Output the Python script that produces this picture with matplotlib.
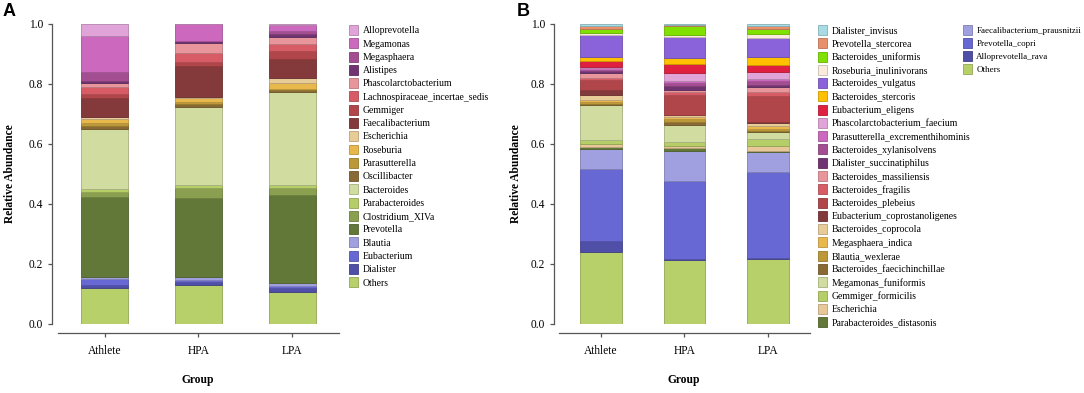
import numpy as np
import matplotlib.pyplot as plt
from matplotlib.patches import Patch
from matplotlib.colors import to_rgb

plt.rcParams['font.family'] = 'serif'
plt.rcParams['font.serif'] = ['Liberation Serif', 'DejaVu Serif']

groups = ["Athlete", "HPA", "LPA"]

# Panel A (genus level), listed from the bottom of the stack upwards
genus = ["Others", "Dialister", "Eubacterium", "Blautia", "Prevotella",
         "Clostridium_XIVa", "Parabacteroides", "Bacteroides", "Oscillibacter",
         "Parasutterella", "Roseburia", "Escherichia", "Faecalibacterium",
         "Gemmiger", "Lachnospiraceae_incertae_sedis", "Phascolarctobacterium",
         "Alistipes", "Megasphaera", "Megamonas", "Alloprevotella"]
genus_colors = ["#B8D06A", "#4F4FA8", "#6868D4", "#A0A0E0", "#627838",
                "#8AA050", "#B6CE68", "#D0DCA0", "#8A6A34", "#BC9838",
                "#E8B84C", "#E8CC98", "#843A3A", "#B0464A", "#D85C66",
                "#E8969C", "#703472", "#A44E92", "#CC68BE", "#E0A4D8"]
genus_athlete = [0.120, 0.010, 0.019, 0.009, 0.264, 0.017, 0.010, 0.200, 0.012, 0.008,
                 0.013, 0.007, 0.063, 0.014, 0.023, 0.014, 0.007, 0.029, 0.121, 0.040]
genus_hpa = [0.130, 0.010, 0.007, 0.011, 0.263, 0.031, 0.011, 0.261, 0.009, 0.007,
             0.012, 0.005, 0.102, 0.013, 0.032, 0.031, 0.007, 0.002, 0.056, 0.000]
genus_lpa = [0.108, 0.011, 0.008, 0.011, 0.292, 0.025, 0.008, 0.311, 0.005, 0.004,
             0.020, 0.017, 0.064, 0.025, 0.025, 0.023, 0.010, 0.009, 0.021, 0.003]

# Panel B (species level), bottom of the stack upwards
species = ["Others", "Alloprevotella_rava", "Prevotella_copri", "Faecalibacterium_prausnitzii",
           "Parabacteroides_distasonis", "Escherichia", "Gemmiger_formicilis",
           "Megamonas_funiformis", "Bacteroides_faecichinchillae", "Blautia_wexlerae",
           "Megasphaera_indica", "Bacteroides_coprocola", "Eubacterium_coprostanoligenes",
           "Bacteroides_plebeius", "Bacteroides_fragilis", "Bacteroides_massiliensis",
           "Dialister_succinatiphilus", "Bacteroides_xylanisolvens",
           "Parasutterella_excrementhihominis", "Phascolarctobacterium_faecium",
           "Eubacterium_eligens", "Bacteroides_stercoris", "Bacteroides_vulgatus",
           "Roseburia_inulinivorans", "Bacteroides_uniformis", "Prevotella_stercorea",
           "Dialister_invisus"]
species_colors = ["#B8D06A", "#4F4FA8", "#6868D4", "#A0A0E0", "#627838", "#E8C898",
                  "#B6CE68", "#D0DCA0", "#8A6A34", "#BC9838", "#E8B84C", "#E8CC98",
                  "#843A3A", "#B0464A", "#D85C66", "#E8969C", "#703472", "#A44E92",
                  "#CC68BE", "#E0A4D8", "#E02040", "#FFC000", "#8A62DA", "#FAEBDC",
                  "#80E000", "#E8906A", "#A8DCE4"]
species_athlete = [0.239, 0.039, 0.240, 0.065, 0.008, 0.009, 0.013, 0.116, 0.006, 0.005,
                   0.008, 0.014, 0.019, 0.031, 0.008, 0.017, 0.005, 0.005, 0.006, 0.004,
                   0.021, 0.011, 0.073, 0.008, 0.014, 0.009, 0.007]
species_hpa = [0.214, 0.002, 0.262, 0.100, 0.009, 0.005, 0.015, 0.056, 0.012, 0.008,
               0.007, 0.006, 0.002, 0.064, 0.010, 0.008, 0.012, 0.010, 0.007, 0.028,
               0.030, 0.020, 0.070, 0.007, 0.030, 0.002, 0.004]
species_lpa = [0.217, 0.004, 0.285, 0.066, 0.006, 0.016, 0.023, 0.023, 0.005, 0.005,
               0.010, 0.010, 0.003, 0.087, 0.013, 0.016, 0.007, 0.015, 0.007, 0.022,
               0.022, 0.027, 0.064, 0.014, 0.017, 0.009, 0.007]

W, H = 1084, 393
fig = plt.figure(figsize=(W / 100, H / 100), dpi=100)
axis_col = '#555555'
lab_size = 8.3


def darker(c, f=0.8):
    r, g, b = to_rgb(c)
    return (r * f, g * f, b * f)


def draw_panel(ax, names, colors, table):
    x = np.arange(1, len(groups) + 1)
    data = np.array(table)
    bottom = np.zeros(len(groups))
    for i, col in enumerate(colors):
        ax.bar(x, data[:, i], 0.5, bottom=bottom, color=col,
               edgecolor=darker(col), linewidth=0.6)
        bottom += data[:, i]
    ax.set_xlim(0.44, 3.55)
    ax.set_ylim(0, 1)
    ax.set_xticks(x, groups)
    ax.set_yticks(np.arange(0, 1.01, 0.2))
    ax.set_yticklabels([f"{v:.1f}" for v in np.arange(0, 1.01, 0.2)])
    for s in ['top', 'right']:
        ax.spines[s].set_visible(False)
    ax.spines['left'].set_bounds(0, 1)
    ax.spines['bottom'].set_position(('outward', 6.5))
    ax.spines['bottom'].set_bounds(0.5, 3.5)
    for s in ['left', 'bottom']:
        ax.spines[s].set_color(axis_col)
        ax.spines[s].set_linewidth(0.9)
    ax.tick_params(axis='both', colors=axis_col, labelcolor='black',
                   labelsize=lab_size, length=2.8, width=0.9)
    ax.tick_params(axis='x', pad=6)
    ax.set_ylabel("Relative Abundance", fontsize=lab_size, fontweight='bold')
    ax.yaxis.label.set_va('center')
    ax.yaxis.set_label_coords(-0.145, 0.5)
    ax.set_xlabel("Group", fontsize=lab_size, fontweight='bold')
    ax.xaxis.set_label_coords(0.5, -0.187)
    ax.xaxis.label.set_va('center')
    handles = [Patch(facecolor=c, edgecolor=darker(c), linewidth=0.6) for c in colors]
    return handles[::-1], names[::-1]


def add_legend(fig, handles, labels, x0, y0, size=7):
    leg = fig.legend(handles, labels, loc='upper left',
                     bbox_to_anchor=(x0 / W, 1 - y0 / H), frameon=False,
                     fontsize=size, handlelength=0.95 * 7 / size,
                     handleheight=1.2 * 7 / size, handletextpad=0.45,
                     labelspacing=0.31 * 7 / size, borderpad=0, borderaxespad=0)
    return leg


ax_a = fig.add_axes([52 / W, (H - 324) / H, 292 / W, 300 / H])
h, l = draw_panel(ax_a, genus, genus_colors, [genus_athlete, genus_hpa, genus_lpa])
add_legend(fig, h, l, 349, 25)

ax_b = fig.add_axes([554 / W, (H - 324) / H, 260 / W, 300 / H])
h, l = draw_panel(ax_b, species, species_colors, [species_athlete, species_hpa, species_lpa])
add_legend(fig, h[:23], l[:23], 818, 25)
add_legend(fig, h[23:], l[23:], 963, 25, size=6.5)

fig.text(3 / W, 1 - 3 / H, "A", fontsize=13, fontweight='bold',
         family='Liberation Sans', ha='left', va='top')
fig.text(517 / W, 1 - 3 / H, "B", fontsize=13, fontweight='bold',
         family='Liberation Sans', ha='left', va='top')

fig.savefig("out.png", dpi=100)
